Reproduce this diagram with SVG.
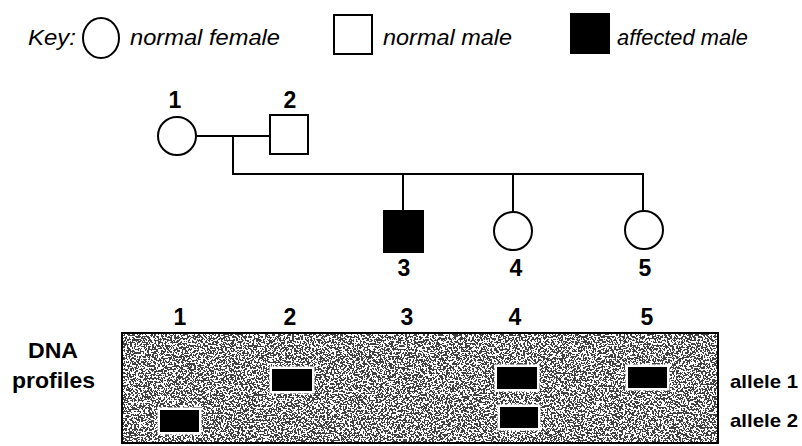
<svg xmlns="http://www.w3.org/2000/svg" width="802" height="446" viewBox="0 0 802 446">
<style>
.key{font-family:"Liberation Sans",Arial,sans-serif;font-style:italic;font-size:22px;fill:#000}
.num{font-family:"Liberation Sans",Arial,sans-serif;font-weight:bold;font-size:23px;fill:#000;text-anchor:middle}
.lbl{font-family:"Liberation Sans",Arial,sans-serif;font-weight:bold;font-size:22px;fill:#000}
.al{font-family:"Liberation Sans",Arial,sans-serif;font-weight:bold;font-size:19px;fill:#000}
.sym{fill:#fff;stroke:#000;stroke-width:2}
.aff{fill:#000;stroke:#000;stroke-width:2}
.ln{fill:none;stroke:#000;stroke-width:2}
.band{fill:#000;stroke:#fff;stroke-width:5;paint-order:stroke}
</style>
<defs>
<filter id="noise" x="0" y="0" width="100%" height="100%" color-interpolation-filters="sRGB">
<feTurbulence type="fractalNoise" baseFrequency="0.55" numOctaves="2" seed="7" result="t"/>
<feColorMatrix in="t" type="matrix" values="0 0 0 0 0.25  0 0 0 0 0.25  0 0 0 0 0.25  -3 0 0 0 2.0" result="n"/>
<feComponentTransfer in="n" result="d"><feFuncA type="discrete" tableValues="0 1"/></feComponentTransfer>
<feMerge><feMergeNode in="SourceGraphic"/><feMergeNode in="d"/></feMerge>
</filter>
</defs>
<rect width="802" height="446" fill="#fff"/>

<g id="key">
<text class="key" x="28" y="45" textLength="48" lengthAdjust="spacingAndGlyphs">Key:</text>
<ellipse class="sym" cx="101" cy="38" rx="18" ry="20"/>
<text class="key" x="130" y="45" textLength="150" lengthAdjust="spacingAndGlyphs">normal female</text>
<rect class="sym" x="334" y="15" width="38" height="39"/>
<text class="key" x="383" y="45" textLength="129" lengthAdjust="spacingAndGlyphs">normal male</text>
<rect class="aff" x="571" y="14" width="38" height="39"/>
<text class="key" x="617" y="45" textLength="131" lengthAdjust="spacingAndGlyphs">affected male</text>
</g>

<g id="connectors">
<line class="ln" x1="196" y1="136" x2="270" y2="136"/>
<polyline class="ln" points="233,136 233,174 643,174 643,212"/>
<line class="ln" x1="403" y1="174" x2="403" y2="211"/>
<line class="ln" x1="513" y1="174" x2="513" y2="212"/>
</g>

<g id="p1"><circle class="sym" cx="177" cy="136" r="19"/><text class="num" x="175" y="108">1</text></g>
<g id="p2"><rect class="sym" x="270" y="115" width="38" height="39"/><text class="num" x="290" y="108">2</text></g>
<g id="p3"><rect class="aff" x="384" y="211" width="39" height="41"/><text class="num" x="404" y="276">3</text></g>
<g id="p4"><circle class="sym" cx="513" cy="231" r="19"/><text class="num" x="516" y="276">4</text></g>
<g id="p5"><circle class="sym" cx="644" cy="230" r="19"/><text class="num" x="645" y="276">5</text></g>

<g id="gel">
<text class="lbl" x="28" y="358" textLength="50" lengthAdjust="spacingAndGlyphs">DNA</text>
<text class="lbl" x="12" y="388" textLength="83" lengthAdjust="spacingAndGlyphs">profiles</text>
<text class="num" x="180" y="325">1</text>
<text class="num" x="290" y="325">2</text>
<text class="num" x="407" y="325">3</text>
<text class="num" x="515" y="325">4</text>
<text class="num" x="647" y="325">5</text>
<rect x="122" y="333" width="596" height="110" fill="#fff" filter="url(#noise)"/>
<rect x="122" y="333" width="596" height="110" fill="none" stroke="#000" stroke-width="2"/>
<rect class="band" x="160" y="410" width="39" height="22"/>
<rect class="band" x="272" y="369" width="40" height="22"/>
<rect class="band" x="497" y="367" width="40" height="22"/>
<rect class="band" x="500" y="407" width="38" height="21"/>
<rect class="band" x="628" y="367" width="39" height="21"/>
<text class="al" x="730" y="388" textLength="68" lengthAdjust="spacingAndGlyphs">allele 1</text>
<text class="al" x="730" y="427" textLength="68" lengthAdjust="spacingAndGlyphs">allele 2</text>
</g>
</svg>
